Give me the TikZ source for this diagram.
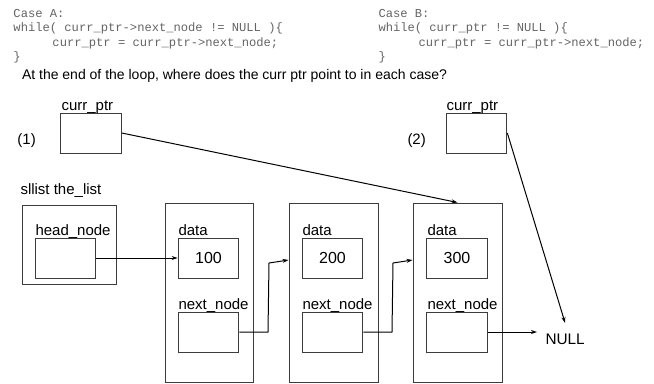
\documentclass[tikz,border=0pt]{standalone}
\usepackage{fontspec}
\setmainfont{Liberation Sans}
\newfontfamily\codefont{Liberation Mono}
\usetikzlibrary{arrows.meta}
\definecolor{codegray}{RGB}{100,100,100}
\definecolor{boxline}{RGB}{60,60,60}
\begin{document}
\begin{tikzpicture}[x=0.75pt,y=-0.75pt,
  line width=0.75pt,
  cell/.style={draw=boxline,rectangle,inner sep=0,minimum width=45.5pt,minimum height=30pt},
  frame/.style={draw=boxline,rectangle,inner sep=0},
  lbl/.style={anchor=base west,inner sep=0,font=\fontsize{11.25}{13}\selectfont},
  val/.style={inner sep=0,font=\fontsize{12}{14}\selectfont},
  code/.style={anchor=base west,inner sep=0,text=codegray,font=\codefont\fontsize{9.1}{11}\selectfont},
  arr/.style={-{Stealth[length=4.5pt,width=3pt]}}]
\useasboundingbox (0,0) rectangle (654,383);

% code of the two loops
\node[code] (ca1) at (13,17) {Case A:};
\node[code] (ca2) at (13,31.5) {while( curr\_ptr->next\_node != NULL )\{};
\node[code] (ca3) at (52,46) {curr\_ptr = curr\_ptr->next\_node;};
\node[code] (ca4) at (13,60.5) {\}};
\node[code] (cb1) at (378,17) {Case B:};
\node[code] (cb2) at (378,31.5) {while( curr\_ptr != NULL )\{};
\node[code] (cb3) at (418,46) {curr\_ptr = curr\_ptr->next\_node;};
\node[code] (cb4) at (378,60.5) {\}};

% question
\node[anchor=base west,inner sep=0,font=\fontsize{10.5}{12}\selectfont] (q) at (21.5,79)
  {At the end of the loop, where does the curr ptr point to in each case?};

% the two current pointers
\node[cell] (cp1) at (91,133) {};
\node[lbl] (cp1l) at (61,110.5) {curr\_ptr};
\node[lbl] (t1) at (17,144) {(1)};
\node[cell] (cp2) at (476.5,133) {};
\node[lbl] (cp2l) at (446,110.5) {curr\_ptr};
\node[lbl] (t2) at (407,144) {(2)};

% list header
\node[lbl] (sl) at (20,194) {sllist the\_list};
\node[frame,minimum width=70.5pt,minimum height=59.25pt] (hd) at (69,244.5) {};
\node[lbl] (hdl) at (35,235) {head\_node};
\node[cell] (hin) at (65.5,258) {};

% list nodes
\node[frame,minimum width=66pt,minimum height=134.25pt] (n1) at (209,292.5) {};
\node[lbl] (d1l) at (178,235) {data};
\node[cell] (d1) at (208.5,258) {};
\node[val] (v1) at (d1) {100};
\node[lbl] (x1l) at (178,309) {next\_node};
\node[cell] (x1) at (208.5,332) {};

\node[frame,minimum width=66.75pt,minimum height=134.25pt] (n2) at (333.5,292.5) {};
\node[lbl] (d2l) at (302,235) {data};
\node[cell] (d2) at (332.5,258) {};
\node[val] (v2) at (d2) {200};
\node[lbl] (x2l) at (302,309) {next\_node};
\node[cell] (x2) at (332.5,332) {};

\node[frame,minimum width=66.75pt,minimum height=134.25pt] (n3) at (457.5,292.5) {};
\node[lbl] (d3l) at (427,235) {data};
\node[cell] (d3) at (457,258) {};
\node[val] (v3) at (d3) {300};
\node[lbl] (x3l) at (427,309) {next\_node};
\node[cell] (x3) at (457,332) {};

\node[anchor=base west,inner sep=0,font=\fontsize{11.5}{13}\selectfont] (null) at (545,344) {NULL};

% links
\draw[arr] (hin.east) -- (d1.west);

\coordinate (b1a) at (268,332);
\coordinate (b1b) at (269,263);
\draw[arr] (x1.east) -- (b1a) -- (b1b) -- (n2.west |- 0,260);

\coordinate (b2a) at (392,332);
\coordinate (b2b) at (393,263);
\draw[arr] (x2.east) -- (b2a) -- (b2b) -- (n3.west |- 0,260);

\draw[arr,shorten >=6pt] (x3.east) -- (x3.east -| null.west);

\draw[arr] (cp1.east) -- (n3.north);
\draw[arr] (cp2.east) -- ([yshift=7.5pt]null.north);
\end{tikzpicture}
\end{document}
